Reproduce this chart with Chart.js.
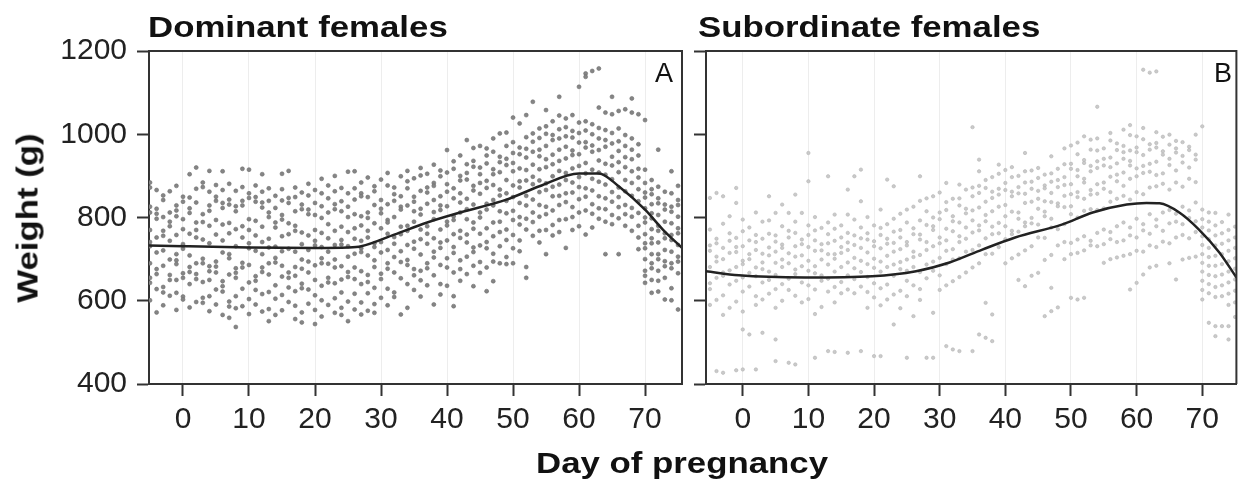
<!DOCTYPE html>
<html>
<head>
<meta charset="utf-8">
<script src="https://cdn.jsdelivr.net/npm/chart.js@4.4.1/dist/chart.umd.min.js"></script>
<style>
  body { margin: 0; background: #fff; }
  #wrap { position: relative; width: 1241px; height: 481px; overflow: hidden; }
  canvas { position: absolute; top: 0; }
  .bold { position: absolute; font-family: "Liberation Sans", Arial, sans-serif; font-weight: bold;
          font-size: 29px; line-height: 1; color: #111; white-space: nowrap; }
  .letter { position: absolute; font-family: "Liberation Sans", Arial, sans-serif;
            font-size: 27px; line-height: 1; color: #111; }
</style>
</head>
<body>
<div id="wrap">
  <canvas id="graficoA" width="692" height="481" style="left:0"></canvas>
  <canvas id="graficoB" width="549" height="481" style="left:692px"></canvas>
  <div class="bold" style="left:148px; top:13px; transform:scaleX(1.2); transform-origin:left top;">Dominant females</div>
  <div class="bold" style="left:698px; top:13px; transform:scaleX(1.2); transform-origin:left top;">Subordinate females</div>
  <div class="bold" style="left:682px; top:449px; transform:translateX(-50%) scaleX(1.2);">Day of pregnancy</div>
  <div class="bold" style="left:28px; top:218px; transform:translate(-50%,-50%) rotate(-90deg) scaleX(1.2);">Weight (g)</div>
  <div class="letter" style="right:568px; top:60px;">A</div>
  <div class="letter" style="right:9px; top:60px;">B</div>
</div>
<script>
// days of pregnancy that have weighings
const days = [-5, -4, -3, -2, -1, 0, 1, 2, 3, 4, 5, 6, 7, 8, 9, 10, 11, 12, 13, 14,
  15, 16, 17, 18, 19, 20, 21, 22, 23, 24, 25, 26, 27, 28, 29, 30, 31, 32, 33, 34,
  35, 36, 37, 38, 39, 40, 41, 42, 43, 44, 45, 46, 47, 48, 49, 50, 51, 52, 53, 54,
  55, 56, 57, 58, 59, 60, 61, 62, 63, 64, 65, 66, 67, 68, 69, 70, 71, 72, 73, 74, 75];

const xTicks = [0, 10, 20, 30, 40, 50, 60, 70];
const yTicks = [400, 600, 800, 1000, 1200];

// dominant females, weights (g) for each day above
const domWeights = [
  [884, 872, 826, 812, 770, 741, 731, 690, 655, 643, 601],
  [866, 821, 809, 797, 752, 716, 676, 664, 628, 572],
  [853, 842, 801, 768, 756, 721, 684, 633, 620, 589],
  [863, 812, 790, 779, 744, 699, 662, 650, 612],
  [876, 829, 817, 803, 758, 712, 697, 688, 650, 619, 578],
  [850, 838, 796, 772, 736, 725, 666, 655, 610, 603],
  [904, 848, 822, 811, 761, 709, 681, 669, 640, 584],
  [920, 869, 836, 788, 770, 752, 690, 664, 652, 597],
  [884, 873, 808, 789, 747, 701, 690, 645, 607, 595],
  [912, 862, 829, 816, 780, 738, 683, 671, 650, 611, 575],
  [878, 850, 840, 794, 759, 694, 682, 668, 627, 591],
  [911, 866, 835, 823, 783, 745, 716, 647, 635, 622, 566],
  [881, 843, 831, 787, 762, 712, 702, 663, 598, 586, 559],
  [864, 827, 815, 772, 731, 678, 667, 655, 611, 582, 537],
  [917, 873, 840, 829, 779, 752, 691, 680, 629, 587],
  [915, 858, 847, 796, 770, 738, 726, 686, 644, 604, 568],
  [877, 849, 838, 792, 757, 720, 659, 648, 626, 591],
  [904, 862, 836, 824, 778, 741, 712, 680, 669, 616, 574],
  [870, 840, 812, 801, 749, 728, 690, 663, 621, 580, 551],
  [852, 823, 788, 776, 730, 703, 692, 637, 605, 566],
  [905, 868, 841, 806, 795, 755, 719, 684, 658, 614, 577],
  [912, 847, 835, 786, 760, 725, 668, 655, 632, 597],
  [872, 849, 815, 780, 768, 718, 681, 660, 623, 588, 556],
  [860, 831, 820, 764, 736, 699, 677, 641, 630, 572, 548],
  [881, 853, 819, 808, 757, 722, 694, 668, 627, 593],
  [866, 835, 806, 770, 744, 733, 685, 650, 613, 578, 544],
  [893, 858, 827, 799, 763, 729, 702, 690, 636, 601, 562],
  [877, 846, 812, 784, 750, 718, 689, 655, 644, 590],
  [900, 863, 832, 820, 768, 734, 699, 680, 642, 606, 571],
  [871, 839, 815, 778, 746, 735, 683, 651, 620, 583, 566],
  [910, 858, 826, 801, 765, 731, 706, 669, 657, 598, 551],
  [911, 870, 843, 808, 774, 749, 713, 680, 652, 617, 579],
  [884, 858, 851, 803, 781, 744, 726, 717, 671, 640, 596, 567],
  [896, 849, 812, 799, 768, 752, 709, 662, 645, 618, 576],
  [875, 863, 830, 786, 738, 729, 697, 681, 631, 592, 571],
  [891, 842, 821, 810, 774, 741, 716, 665, 652, 607],
  [907, 877, 832, 794, 788, 761, 722, 690, 677, 629, 589],
  [872, 856, 840, 801, 753, 737, 705, 668, 620, 609],
  [899, 851, 826, 819, 778, 760, 719, 693, 654, 567],
  [912, 887, 870, 829, 780, 768, 734, 698, 686, 640, 583],
  [894, 850, 838, 815, 790, 742, 725, 676, 661, 626],
  [919, 901, 864, 821, 807, 771, 748, 711, 672, 649, 610],
  [905, 872, 860, 833, 779, 761, 737, 690, 678, 637],
  [927, 883, 876, 842, 813, 796, 750, 718, 704, 661, 591],
  [913, 899, 851, 829, 818, 771, 740, 727, 686, 640, 615],
  [962, 908, 880, 862, 827, 790, 781, 745, 702, 680, 636],
  [935, 917, 870, 846, 803, 794, 760, 729, 715, 668, 611, 587],
  [949, 900, 889, 858, 836, 812, 768, 751, 697, 676, 648],
  [986, 928, 907, 891, 845, 820, 796, 759, 740, 706, 664],
  [967, 936, 922, 876, 865, 831, 788, 773, 728, 717, 684, 635],
  [972, 920, 904, 883, 857, 812, 800, 761, 733, 693, 667],
  [966, 949, 930, 888, 871, 833, 819, 774, 741, 726, 680, 623],
  [990, 958, 916, 904, 878, 842, 829, 788, 755, 713, 694, 647],
  [1002, 946, 933, 909, 867, 853, 815, 790, 765, 731, 690],
  [1004, 972, 941, 926, 890, 858, 840, 810, 771, 746, 705, 688],
  [1040, 981, 955, 931, 911, 877, 849, 816, 794, 758, 726, 690],
  [1026, 968, 952, 918, 887, 872, 835, 801, 783, 745, 719],
  [1046, 993, 965, 944, 914, 889, 852, 829, 797, 771, 681, 655],
  [1078, 1002, 982, 958, 927, 898, 880, 843, 812, 789, 756],
  [1014, 991, 963, 947, 916, 889, 861, 830, 802, 768, 740],
  [1058, 1019, 1001, 972, 940, 921, 882, 866, 826, 808, 770, 712],
  [1031, 998, 986, 951, 928, 899, 874, 851, 817, 782, 757],
  [1090, 1045, 1012, 990, 963, 936, 912, 879, 852, 830, 794, 765],
  [1038, 1017, 995, 970, 942, 907, 890, 858, 837, 796, 727],
  [1046, 1008, 992, 961, 950, 918, 884, 860, 825, 801, 770],
  [1114, 1028, 1003, 980, 952, 924, 897, 873, 844, 812, 779],
  [1146, 1138, 1031, 1009, 981, 968, 931, 906, 870, 850, 817, 759],
  [1152, 1024, 1000, 973, 958, 915, 893, 865, 832, 809, 776],
  [1158, 1064, 1015, 990, 962, 937, 908, 886, 851, 822, 797],
  [1052, 1010, 986, 970, 929, 903, 879, 846, 820, 790, 712],
  [1090, 1048, 1003, 978, 946, 925, 892, 861, 838, 806, 784],
  [1056, 1014, 983, 960, 933, 909, 872, 849, 825, 798, 712],
  [1060, 998, 972, 945, 921, 890, 863, 830, 808, 780],
  [1086, 1052, 990, 963, 940, 911, 883, 852, 823, 802, 768],
  [1048, 976, 949, 917, 896, 868, 839, 811, 780, 752, 724],
  [1034, 915, 883, 860, 848, 822, 800, 788, 760, 738, 726, 700, 672, 660, 643],
  [890, 868, 856, 832, 810, 798, 772, 750, 738, 712, 690, 678, 650, 619],
  [963, 874, 846, 834, 806, 780, 768, 740, 712, 700, 672, 648, 622],
  [862, 831, 819, 790, 762, 750, 722, 695, 683, 655, 603],
  [911, 858, 826, 814, 786, 758, 746, 718, 690, 678, 630, 601],
  [876, 842, 830, 802, 774, 762, 734, 706, 694, 666, 579]
];

// subordinate females, weights (g) for each day above
const subWeights = [
  [847, 771, 733, 720, 681, 642, 628, 590],
  [859, 749, 738, 706, 694, 655, 602, 431],
  [851, 785, 727, 700, 668, 660, 613, 566, 427],
  [803, 762, 744, 715, 673, 639, 583],
  [871, 835, 751, 729, 717, 681, 648, 598, 433],
  [795, 767, 731, 696, 688, 656, 622, 574, 531, 435],
  [776, 745, 712, 700, 667, 634, 519],
  [812, 758, 741, 722, 680, 659, 611, 590, 435],
  [790, 749, 713, 692, 676, 644, 603, 523],
  [851, 793, 761, 728, 709, 670, 650, 617],
  [811, 757, 742, 718, 691, 662, 628, 583, 507, 455],
  [831, 779, 735, 727, 699, 681, 640, 600],
  [811, 768, 752, 714, 690, 653, 626, 451],
  [855, 790, 763, 731, 706, 675, 664, 612, 447],
  [811, 747, 736, 709, 683, 644, 596],
  [955, 887, 781, 758, 729, 696, 672, 637, 604],
  [801, 769, 745, 720, 683, 666, 627, 568, 463],
  [775, 736, 721, 699, 661, 648, 585],
  [899, 788, 760, 738, 712, 687, 653, 622, 479],
  [807, 773, 744, 712, 701, 670, 633, 596, 477],
  [781, 752, 729, 715, 681, 645, 618],
  [867, 807, 763, 740, 722, 692, 661, 627, 475],
  [899, 795, 757, 734, 703, 678, 652, 618],
  [915, 839, 776, 750, 727, 696, 669, 634, 479],
  [801, 762, 747, 716, 688, 657, 621, 583],
  [781, 743, 731, 701, 679, 642, 608, 467],
  [819, 775, 758, 726, 694, 670, 630, 589, 467],
  [891, 784, 749, 737, 708, 681, 639, 603],
  [875, 797, 766, 739, 718, 687, 660, 615, 543],
  [809, 770, 752, 724, 693, 676, 624, 582],
  [819, 788, 741, 733, 699, 672, 648, 611, 463],
  [826, 774, 760, 718, 705, 681, 637, 563],
  [899, 840, 793, 759, 747, 710, 669, 628, 602],
  [846, 815, 782, 741, 722, 687, 654, 463],
  [851, 800, 779, 770, 731, 694, 672, 571, 463],
  [860, 812, 796, 752, 738, 703, 661, 626],
  [883, 837, 818, 773, 745, 720, 688, 637, 491],
  [845, 803, 791, 767, 724, 699, 647, 483],
  [879, 846, 829, 788, 755, 741, 702, 657, 479],
  [867, 821, 810, 776, 749, 718, 668],
  [1017, 872, 851, 817, 793, 764, 722, 680, 479],
  [939, 911, 876, 859, 824, 781, 769, 733, 690, 519],
  [890, 871, 838, 806, 791, 750, 712, 595, 511],
  [897, 862, 847, 815, 778, 760, 713, 567, 503],
  [927, 905, 869, 855, 826, 787, 762, 729],
  [914, 883, 866, 830, 803, 779, 748, 690],
  [921, 897, 862, 851, 814, 768, 760, 702],
  [900, 873, 858, 812, 797, 766, 711, 650],
  [955, 911, 884, 857, 835, 788, 779, 721, 635],
  [913, 886, 869, 838, 799, 786, 731, 660],
  [919, 895, 864, 845, 821, 783, 752, 667],
  [903, 877, 870, 839, 814, 803, 751, 698, 563],
  [947, 906, 886, 859, 837, 797, 776, 710, 631, 575],
  [917, 890, 873, 834, 827, 772, 733, 584],
  [966, 928, 897, 878, 852, 825, 784, 741, 700],
  [973, 929, 917, 880, 856, 827, 808, 739, 712, 607],
  [980, 952, 914, 899, 861, 849, 800, 747, 715, 603],
  [995, 938, 931, 893, 884, 845, 816, 755, 721, 607],
  [987, 963, 924, 911, 866, 855, 820, 744, 733],
  [1066, 990, 961, 935, 919, 880, 857, 818, 763, 731],
  [966, 941, 925, 884, 869, 822, 771, 736, 691],
  [1003, 985, 944, 921, 898, 861, 838, 765, 748, 700],
  [978, 962, 930, 903, 887, 845, 779, 741, 704],
  [1011, 972, 957, 941, 908, 876, 852, 788, 745, 708],
  [1022, 998, 961, 936, 925, 893, 843, 776, 757, 712, 627],
  [995, 968, 957, 918, 899, 861, 797, 752, 720, 643],
  [1155, 1015, 988, 950, 924, 907, 856, 784, 769, 718, 663],
  [1148, 976, 963, 929, 910, 872, 808, 761, 733, 680],
  [1151, 1005, 979, 968, 934, 902, 875, 795, 779, 729, 684],
  [994, 959, 951, 906, 881, 812, 768, 742],
  [999, 975, 941, 926, 867, 818, 786, 738, 690],
  [984, 966, 956, 913, 884, 809, 790, 752, 651],
  [981, 948, 932, 874, 826, 784, 758, 699],
  [970, 962, 920, 893, 817, 799, 750, 703],
  [999, 951, 939, 885, 836, 791, 765, 706],
  [1019, 819, 796, 776, 755, 734, 712, 691, 670, 648, 626, 603],
  [812, 790, 769, 748, 727, 705, 684, 662, 640, 618, 547],
  [811, 781, 757, 733, 708, 684, 659, 633, 609, 539, 515],
  [789, 762, 737, 712, 688, 663, 637, 611, 539],
  [807, 770, 745, 720, 695, 670, 644, 617, 590, 539, 507],
  [778, 752, 727, 702, 677, 651, 624, 596, 561]
];

// fitted curves
const domCurveDays = [-5.2, 0, 10, 20, 25, 27, 32, 37, 42, 49, 54, 60, 63, 66, 70, 72.7, 75.6];
const domCurveWeights = [733, 731, 728, 727, 728, 731, 759, 788, 812, 843, 875, 906, 906, 875, 819, 771, 727];
const subCurveDays = [-5.6, -0.6, 9.5, 19.7, 26.4, 31.5, 36.5, 41.5, 48.6, 53.3, 58.5, 61.5, 63.5, 66.5, 69.5, 72.6, 75.2];
const subCurveWeights = [671, 661, 656, 659, 671, 692, 723, 752, 783, 812, 831, 835, 834, 812, 771, 716, 656];

function toPoints(weights) {
  const pts = [];
  weights.forEach((lista, i) => lista.forEach(w => pts.push({ x: days[i], y: w })));
  return pts;
}

function curvePoints(xs, ys) {
  return xs.map((x, i) => ({ x: x, y: ys[i] }));
}

// top and right edge of the box
const moldura = {
  id: 'moldura',
  afterDraw(chart) {
    const { ctx, chartArea: a } = chart;
    ctx.save();
    ctx.strokeStyle = '#333';
    ctx.lineWidth = 2;
    ctx.beginPath();
    ctx.moveTo(a.left, a.top);
    ctx.lineTo(a.right, a.top);
    ctx.lineTo(a.right, a.bottom);
    ctx.stroke();
    ctx.restore();
  }
};

const fonteTicks = { family: '"Liberation Sans", Arial, sans-serif', size: 30 };

function criarGrafico(id, cfg) {
  return new Chart(document.getElementById(id), {
    type: 'scatter',
    data: {
      datasets: [
        {
          data: cfg.curva,
          showLine: true,
          borderColor: '#222',
          borderWidth: 2.5,
          pointRadius: 0,
          cubicInterpolationMode: 'monotone'
        },
        {
          data: cfg.pontos,
          pointRadius: cfg.raio,
          backgroundColor: cfg.cor,
          borderColor: cfg.borda,
          borderWidth: 0.6
        }
      ]
    },
    options: {
      responsive: false,
      animation: false,
      layout: { padding: { top: 51, right: cfg.direita, bottom: 47, left: 0 } },
      plugins: { legend: { display: false }, tooltip: { enabled: false } },
      scales: {
        x: {
          type: 'linear',
          min: cfg.xMin,
          max: cfg.xMax,
          afterBuildTicks: s => { s.ticks = xTicks.map(v => ({ value: v })); },
          afterFit: s => { s.height = 50; },
          grid: { color: '#ededed', lineWidth: 1, tickColor: '#333', tickLength: 12, tickWidth: 2 },
          border: { color: '#333', width: 2 },
          ticks: { font: fonteTicks, color: '#222', padding: 6, maxRotation: 0, callback: v => String(v) }
        },
        y: {
          min: 400,
          max: 1200,
          afterBuildTicks: s => { s.ticks = yTicks.map(v => ({ value: v })); },
          afterFit: s => { s.width = cfg.yLargura; },
          grid: { drawOnChartArea: false, tickColor: '#333', tickLength: 12, tickWidth: 2 },
          border: { color: '#333', width: 2 },
          ticks: { display: cfg.yRotulos, font: fonteTicks, color: '#222', padding: 10, callback: v => String(v) }
        }
      }
    },
    plugins: [moldura]
  });
}

criarGrafico('graficoA', {
  pontos: toPoints(domWeights),
  curva: curvePoints(domCurveDays, domCurveWeights),
  xMin: -5.15, xMax: 75.6,
  raio: 2, cor: '#858585', borda: '#6f6f6f',
  yLargura: 149, yRotulos: true, direita: 10
});

criarGrafico('graficoB', {
  pontos: toPoints(subWeights),
  curva: curvePoints(subCurveDays, subCurveWeights),
  xMin: -5.6, xMax: 75.2,
  raio: 1.7, cor: '#cacaca', borda: '#b3b3b3',
  yLargura: 14, yRotulos: false, direita: 2
});
</script>
</body>
</html>
